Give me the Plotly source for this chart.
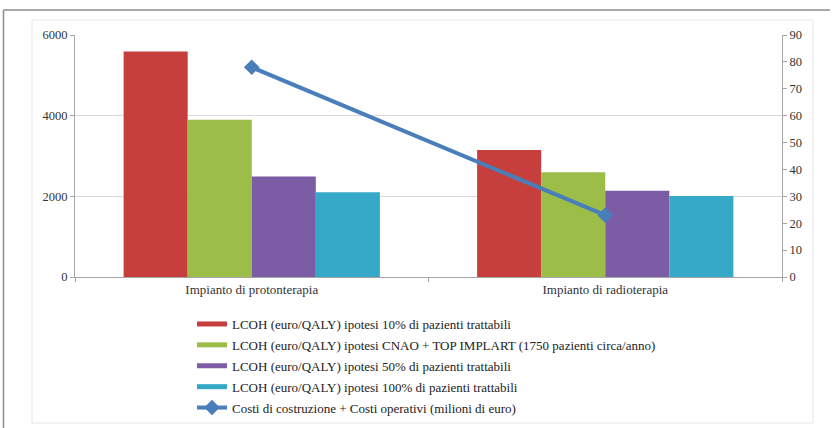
import plotly.graph_objects as go

categories = ["Impianto di protonterapia", "Impianto di radioterapia"]
series_names = [
    "LCOH (euro/QALY) ipotesi 10% di pazienti trattabili",
    "LCOH (euro/QALY) ipotesi CNAO + TOP IMPLART (1750 pazienti circa/anno)",
    "LCOH (euro/QALY) ipotesi 50% di pazienti trattabili",
    "LCOH (euro/QALY) ipotesi 100% di pazienti trattabili",
]
lcoh_10 = [5590, 3150]
lcoh_cnao = [3900, 2600]
lcoh_50 = [2490, 2140]
lcoh_100 = [2100, 2010]
line_name = "Costi di costruzione + Costi operativi (milioni di euro)"
costi = [78, 23]
left_ticks = [0, 2000, 4000, 6000]
right_ticks = [0, 10, 20, 30, 40, 50, 60, 70, 80, 90]

colors = ["#C63F3C", "#9CBD48", "#7C5CA4", "#36A9C8"]
line_color = "#4A7EBB"

W, H = 832, 428
L, R, T, B = 75, 50, 35, 151
pw, ph = W - L - R, H - T - B
FAM = "Liberation Serif, Times New Roman, serif"

def px(x):
    return (x - L) / pw

def py(y):
    return (H - B - y) / ph

fig = go.Figure()
for i, (vals, name, c) in enumerate(zip([lcoh_10, lcoh_cnao, lcoh_50, lcoh_100], series_names, colors)):
    fig.add_trace(go.Bar(x=categories, y=vals, name=name, marker=dict(color=c, line=dict(width=0)),
                         legendgroup=f"g{i}", showlegend=False))
for i, (name, c) in enumerate(zip(series_names, colors)):
    fig.add_trace(go.Scatter(x=[None], y=[None], mode="lines", name=name, legendgroup=f"g{i}",
                             line=dict(color=c, width=5)))
fig.add_trace(go.Scatter(x=categories, y=costi, name=line_name, yaxis="y2", legendgroup="g4",
                         mode="lines+markers",
                         line=dict(color=line_color, width=4),
                         marker=dict(symbol="diamond", size=12, color=line_color)))

tick_font = dict(family=FAM, size=12.5, color="#333333")
fig.update_layout(
    width=W, height=H,
    margin=dict(l=L, r=R, t=T, b=B, autoexpand=False),
    paper_bgcolor="white", plot_bgcolor="white",
    barmode="group", bargap=0.275, bargroupgap=0,
    font=dict(family=FAM, size=12.5, color="#333333"),
    showlegend=True,
    legend=dict(x=px(192), y=py(309), xanchor="left", yanchor="top",
                font=dict(family=FAM, size=13, color="#222222"),
                itemwidth=30, bgcolor="rgba(0,0,0,0)",
                traceorder="grouped", tracegroupgap=1),
    xaxis=dict(showline=True, linecolor="#a6a6a6", linewidth=1, ticks="outside",
               tickson="boundaries", ticklen=4, tickcolor="#a6a6a6",
               tickfont=dict(family=FAM, size=13, color="#333333")),
    yaxis=dict(range=[0, 6000], tickvals=left_ticks, showgrid=True, gridcolor="#d9d9d9",
               showline=True, linecolor="#a6a6a6", ticks="outside", ticklen=4,
               tickcolor="#a6a6a6", zeroline=False, tickfont=tick_font),
    yaxis2=dict(range=[0, 90], tickvals=right_ticks, overlaying="y", side="right",
                showgrid=False, showline=True, linecolor="#a6a6a6", ticks="outside",
                ticklen=4, tickcolor="#a6a6a6", zeroline=False, tickfont=tick_font),
    shapes=[
        dict(type="line", xref="paper", yref="paper", x0=px(3.5), x1=px(830), y0=py(10), y1=py(10),
             line=dict(color="#8c8c8c", width=1.5)),
        dict(type="line", xref="paper", yref="paper", x0=px(3.5), x1=px(3.5), y0=py(10), y1=py(430),
             line=dict(color="#8c8c8c", width=1.5)),
        dict(type="rect", xref="paper", yref="paper", x0=px(32), x1=px(813), y0=py(423), y1=py(20),
             line=dict(color="#e6e6e6", width=1), layer="below"),
    ],
)

fig.write_html("out.html", config={"displayModeBar": False},
               post_script="document.body.style.margin='0';")
